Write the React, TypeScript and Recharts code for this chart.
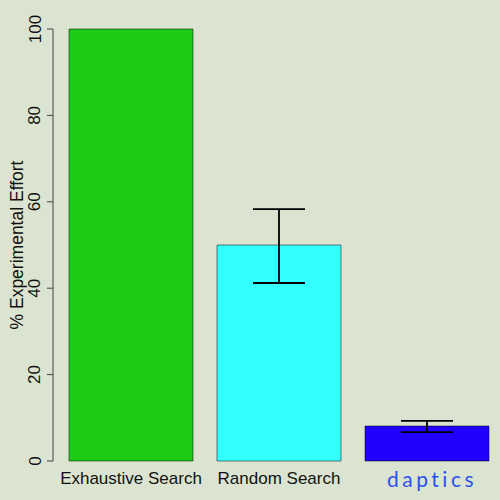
import React from "react";
import { BarChart, Bar, XAxis, YAxis, Cell, ErrorBar } from "recharts";

const categories = ["Exhaustive Search", "Random Search", "daptics"];
const effort = [100, 50, 8.1];
const errLow = [null, 8.8, 1.4];
const errHigh = [null, 8.3, 1.2];
const barColors = ["#1ccc14", "#33ffff", "#2200ff"];
const yTicks = [0, 20, 40, 60, 80, 100];

const data = categories.map((c, i) => ({
  name: c,
  effort: effort[i],
  err: errLow[i] == null ? null : [errLow[i], errHigh[i]],
}));

const FONT = "'Liberation Sans', Arial, Helvetica, sans-serif";

const YTick = (props: any) => {
  const { x, y, payload } = props;
  return (
    <text
      x={x}
      y={y}
      transform={`rotate(-90, ${x}, ${y})`}
      textAnchor="middle"
      dominantBaseline="central"
      fontFamily={FONT}
      fontSize={17}
      fill="#111"
    >
      {payload.value}
    </text>
  );
};

const XTick = (props: any) => {
  const { x, y, payload } = props;
  if (payload.value === "daptics") {
    return (
      <text
        x={x + 5}
        y={y}
        textAnchor="middle"
        dominantBaseline="central"
        fontFamily="Lato, 'DejaVu Sans', sans-serif"
        fontSize={21}
        letterSpacing={3.5}
        fill="#2b50f0"
      >
        {payload.value}
      </text>
    );
  }
  return (
    <text
      x={x}
      y={y}
      textAnchor="middle"
      dominantBaseline="central"
      fontFamily={FONT}
      fontSize={17}
      fill="#111"
    >
      {payload.value}
    </text>
  );
};

const YLabel = (props: any) => {
  const vb = props.viewBox || {};
  const cy = (vb.y || 0) + (vb.height || 0) / 2;
  const cx = 17;
  return (
    <text
      x={cx}
      y={cy}
      transform={`rotate(-90, ${cx}, ${cy})`}
      textAnchor="middle"
      dominantBaseline="central"
      fontFamily={FONT}
      fontSize={17.5}
      fill="#111"
    >
      % Experimental Effort
    </text>
  );
};

export default function App() {
  return (
    <div
      style={{
        position: "absolute",
        left: 0,
        top: 0,
        width: 500,
        height: 500,
        overflow: "hidden",
        background: "#dbe4d0",
      }}
    >
      <BarChart
        width={501}
        height={500}
        data={data}
        margin={{ top: 29, right: 0, bottom: 0, left: 0 }}
        barCategoryGap={12}
      >
        <XAxis
          dataKey="name"
          axisLine={false}
          tickLine={false}
          tickSize={0}
          tickMargin={17}
          height={39}
          padding={{ left: 4, right: 0 }}
          tick={<XTick />}
          interval={0}
        />
        <YAxis
          type="number"
          domain={[0, 100]}
          ticks={yTicks}
          width={53}
          tickSize={6}
          tickMargin={12}
          axisLine={{ stroke: "#444", strokeWidth: 1 }}
          tickLine={{ stroke: "#444", strokeWidth: 1 }}
          tick={<YTick />}
          label={<YLabel />}
        />
        <Bar
          dataKey="effort"
          isAnimationActive={false}
          stroke="#000"
          strokeOpacity={0.5}
          strokeWidth={1}
        >
          {data.map((d, i) => (
            <Cell key={d.name} fill={barColors[i]} />
          ))}
          <ErrorBar
            dataKey="err"
            width={26}
            stroke="#000"
            strokeWidth={1.8}
            direction="y"
            isAnimationActive={false}
          />
        </Bar>
      </BarChart>
    </div>
  );
}
